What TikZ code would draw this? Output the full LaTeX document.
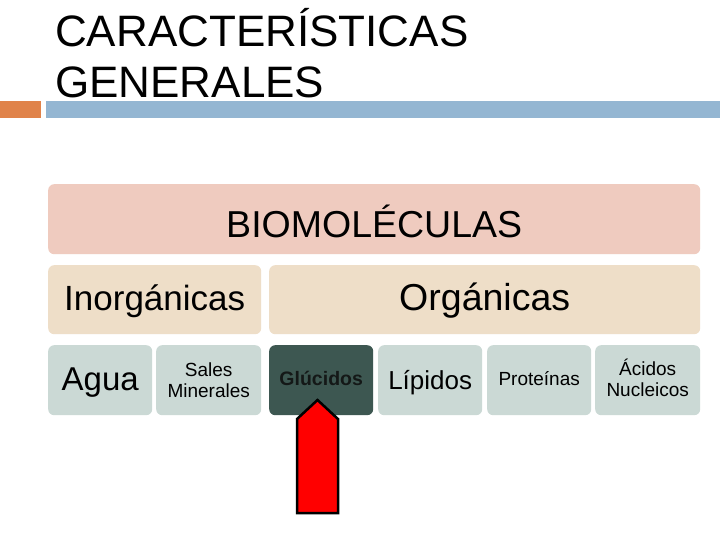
\documentclass[tikz,border=0pt]{standalone}
\usepackage{fontspec}
\setmainfont{Liberation Sans}
\definecolor{orangeA}{RGB}{224,131,74}
\definecolor{blueA}{RGB}{148,182,210}
\definecolor{pinkA}{RGB}{239,203,191}
\definecolor{beigeA}{RGB}{238,222,200}
\definecolor{cellA}{RGB}{203,217,213}
\definecolor{darkA}{RGB}{61,87,81}
\definecolor{txtdark}{RGB}{20,24,23}
\newcommand{\fsz}[2]{\fontsize{#1}{#2}\selectfont}
\tikzset{
  box/.style={draw=none, rounded corners=6pt, inner sep=0pt, anchor=north west},
  lbl/.style={anchor=base, inner sep=0pt, text=black},
  twoline/.style={lbl, text width=110pt, align=center, font=\fsz{19}{20.5}}
}
\begin{document}
\begin{tikzpicture}[x=1pt,y=-1pt]
\useasboundingbox (0,0) rectangle (720,540);
\fill[white] (0,0) rectangle (720,540);
% title
\node[anchor=base west, inner sep=0pt, font=\fsz{44}{50}] (t1) at (55,47) {CARACTERÍSTICAS};
\node[anchor=base west, inner sep=0pt, font=\fsz{44}{50}] (t2) at (55,98) {GENERALES};
\fill[orangeA] (0,101) rectangle (41,118);
\fill[blueA] (46,101) rectangle (720,118);
% boxes
\node[box, fill=pinkA, minimum width=652pt, minimum height=70pt] (bio) at (48,184) {};
\node[box, fill=beigeA, minimum width=213pt, minimum height=69pt] (inorg) at (48,265) {};
\node[box, fill=beigeA, minimum width=431pt, minimum height=69pt] (org) at (269,265) {};
\node[box, fill=cellA, minimum width=104pt, minimum height=70pt] (agua) at (48,345) {};
\node[box, fill=cellA, minimum width=105pt, minimum height=70pt] (sales) at (156,345) {};
\node[box, fill=darkA, minimum width=104pt, minimum height=70pt] (gluc) at (269,345) {};
\node[box, fill=cellA, minimum width=104pt, minimum height=70pt] (lip) at (378,345) {};
\node[box, fill=cellA, minimum width=104pt, minimum height=70pt] (prot) at (487,345) {};
\node[box, fill=cellA, minimum width=105pt, minimum height=70pt] (acid) at (595,345) {};
% labels
\node[lbl, font=\fsz{37.5}{40}] (biot) at (bio.center |- 0,237) {BIOMOLÉCULAS};
\node[lbl, font=\fsz{35}{40}] (inorgt) at (inorg.center |- 0,310.5) {Inorgánicas};
\node[lbl, font=\fsz{37.5}{40}] (orgt) at (org.center |- 0,310.5) {Orgánicas};
\node[lbl, font=\fsz{33}{38}] (aguat) at (agua.center |- 0,390) {Agua};
\node[twoline] (salest) at (sales.center |- 0,376.7) {Sales\\Minerales};
\node[lbl, text=txtdark, font=\fsz{19.5}{22}\bfseries] (gluct) at (gluc.center |- 0,385) {Glúcidos};
\node[lbl, font=\fsz{26}{30}] (lipt) at (lip.center |- 0,389) {Lípidos};
\node[lbl, font=\fsz{19}{22}] (prott) at (prot.center |- 0,385.7) {Proteínas};
\node[twoline] (acidt) at (acid.center |- 0,375.7) {Ácidos\\Nucleicos};
% red arrow
\coordinate (tip) at (317.5,400);
\draw[fill=red, draw=black, line width=2.5pt, line join=miter]
  (tip) -- (338,419) -- (338,513) -- (297,513) -- (297,419) -- cycle;
\end{tikzpicture}
\end{document}
